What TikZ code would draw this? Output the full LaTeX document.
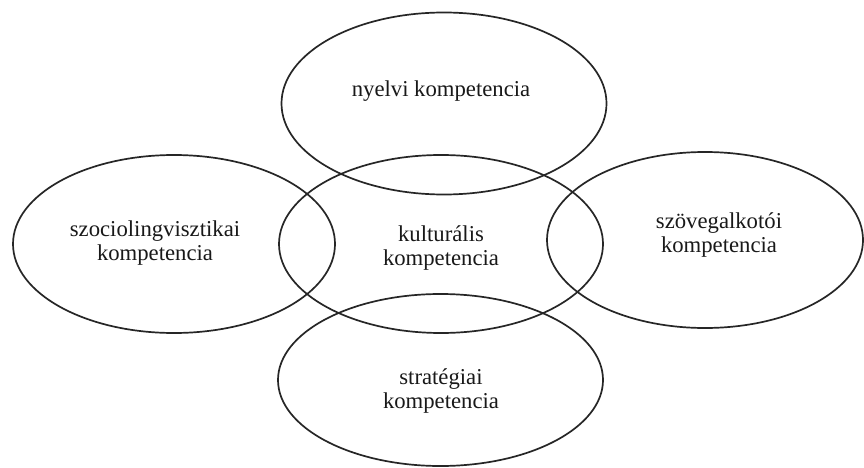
\documentclass[tikz,border=0pt]{standalone}
\usepackage{fontspec}
\setmainfont{Liberation Serif}
\usetikzlibrary{shapes.geometric}
\begin{document}
\begin{tikzpicture}[x=1pt,y=-1pt,
  ring/.style={draw=black!85, line width=1.7pt, ellipse, inner sep=0pt, outer sep=0pt},
  lbl/.style={align=center, text=black!90, font=\fontsize{22.7}{23.5}\selectfont, inner sep=0pt}]
\useasboundingbox (0,0) rectangle (864,468);
\fill[white] (0,0) rectangle (864,468);
\node[ring, minimum width=325pt, minimum height=182pt] (top) at (444,103.5) {};
\node[ring, minimum width=322pt, minimum height=178pt] (left) at (174,244) {};
\node[ring, minimum width=324pt, minimum height=178pt] (center) at (441,244) {};
\node[ring, minimum width=316pt, minimum height=176pt] (right) at (705,240) {};
\node[ring, minimum width=325pt, minimum height=172pt] (bottom) at (440.5,380) {};
\node[lbl] (ttop) at (441,91) {nyelvi kompetencia};
\node[lbl] (tleft) at (155,243) {szociolingvisztikai\\kompetencia};
\node[lbl] (tcenter) at (441,248) {kulturális\\kompetencia};
\node[lbl] (tright) at (719,235) {szövegalkotói\\kompetencia};
\node[lbl] (tbottom) at (441,391) {stratégiai\\kompetencia};
\end{tikzpicture}
\end{document}
